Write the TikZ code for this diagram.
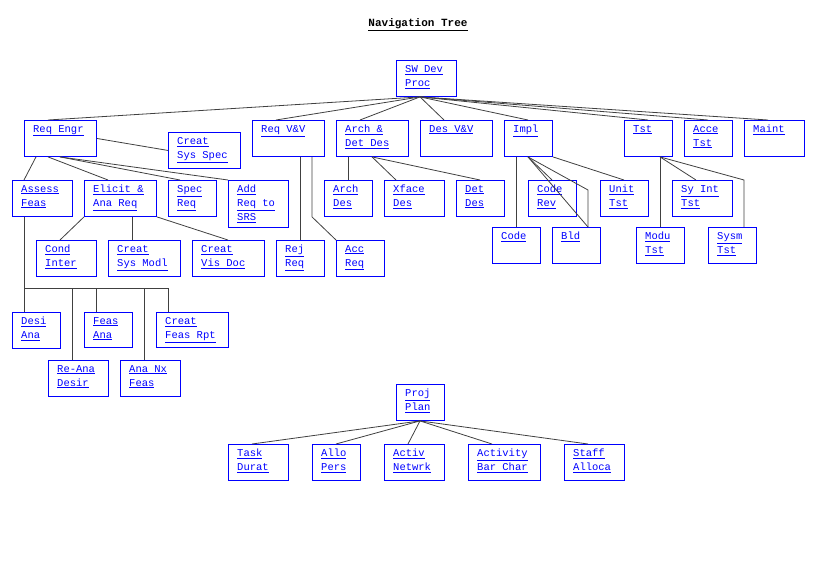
\documentclass[tikz,border=0pt]{standalone}
\usepackage{fontspec}
\setmonofont{Liberation Mono}
\usetikzlibrary{positioning}
\newcommand{\ul}[1]{\underline{#1}}
\newcommand{\navbox}[6]{%
  \node[navbox,minimum width=#4pt,minimum height=#5pt] (#1) at (#2,#3) {};
  \node[navtext] at ([xshift=9pt,yshift=-5pt]#1.north west) {#6};}
\tikzset{
  navbox/.style={draw=blue,line width=0.9pt,anchor=north west,inner sep=0pt},
  navtext/.style={anchor=north west,inner sep=0pt,align=left,text=blue,
    font=\ttfamily\fontsize{10.5}{14}\selectfont},
  link/.style={draw=black!75,line width=0.8pt}
}
\begin{document}
\begin{tikzpicture}[x=1pt,y=-1pt]
\useasboundingbox (0,0) rectangle (817,565);
\node[font=\ttfamily\bfseries\fontsize{11}{13}\selectfont] (title) at (418,25) {\ul{Navigation Tree}};

% top levels
\navbox{swdev}{396}{60}{60}{36}{\ul{SW Dev}\\\ul{Proc}}
\navbox{reqengr}{24}{120}{72}{36}{\ul{Req Engr}}
\navbox{sysspec}{168}{132}{72}{36}{\ul{Creat}\\\ul{Sys Spec}}
\navbox{reqvv}{252}{120}{72}{36}{\ul{Req V\&V}}
\navbox{arch}{336}{120}{72}{36}{\ul{Arch \&}\\\ul{Det Des}}
\navbox{desvv}{420}{120}{72}{36}{\ul{Des V\&V}}
\navbox{impl}{504}{120}{48}{36}{\ul{Impl}}
\navbox{tst}{624}{120}{48}{36}{\ul{Tst}}
\navbox{accetst}{684}{120}{48}{36}{\ul{Acce}\\\ul{Tst}}
\navbox{maint}{744}{120}{60}{36}{\ul{Maint}}

% second level
\navbox{assess}{12}{180}{60}{36}{\ul{Assess}\\\ul{Feas}}
\navbox{elicit}{84}{180}{72}{36}{\ul{Elicit \&}\\\ul{Ana Req}}
\navbox{specreq}{168}{180}{48}{36}{\ul{Spec}\\\ul{Req}}
\navbox{addreq}{228}{180}{60}{47}{\ul{Add}\\\ul{Req to}\\\ul{SRS}}
\navbox{archdes}{324}{180}{48}{36}{\ul{Arch}\\\ul{Des}}
\navbox{xface}{384}{180}{60}{36}{\ul{Xface}\\\ul{Des}}
\navbox{detdes}{456}{180}{48}{36}{\ul{Det}\\\ul{Des}}
\navbox{coderev}{528}{180}{48}{36}{\ul{Code}\\\ul{Rev}}
\navbox{unittst}{600}{180}{48}{36}{\ul{Unit}\\\ul{Tst}}
\navbox{syint}{672}{180}{60}{36}{\ul{Sy Int}\\\ul{Tst}}

% third level
\navbox{cond}{36}{240}{60}{36}{\ul{Cond}\\\ul{Inter}}
\navbox{sysmodl}{108}{240}{72}{36}{\ul{Creat}\\\ul{Sys Modl}}
\navbox{visdoc}{192}{240}{72}{36}{\ul{Creat}\\\ul{Vis Doc}}
\navbox{rejreq}{276}{240}{48}{36}{\ul{Rej}\\\ul{Req}}
\navbox{accreq}{336}{240}{48}{36}{\ul{Acc}\\\ul{Req}}
\navbox{code}{492}{227}{48}{36}{\ul{Code}}
\navbox{bld}{552}{227}{48}{36}{\ul{Bld}}
\navbox{modu}{636}{227}{48}{36}{\ul{Modu}\\\ul{Tst}}
\navbox{sysm}{708}{227}{48}{36}{\ul{Sysm}\\\ul{Tst}}

% feasibility
\navbox{desi}{12}{312}{48}{36}{\ul{Desi}\\\ul{Ana}}
\navbox{feasana}{84}{312}{48}{35}{\ul{Feas}\\\ul{Ana}}
\navbox{feasrpt}{156}{312}{72}{35}{\ul{Creat}\\\ul{Feas Rpt}}
\navbox{reana}{48}{360}{60}{36}{\ul{Re-Ana}\\\ul{Desir}}
\navbox{anafeas}{120}{360}{60}{36}{\ul{Ana Nx}\\\ul{Feas}}

% project plan
\navbox{proj}{396}{384}{48}{36}{\ul{Proj}\\\ul{Plan}}
\navbox{task}{228}{444}{60}{36}{\ul{Task}\\\ul{Durat}}
\navbox{allo}{312}{444}{48}{36}{\ul{Allo}\\\ul{Pers}}
\navbox{activ}{384}{444}{60}{36}{\ul{Activ}\\\ul{Netwrk}}
\navbox{barchar}{468}{444}{72}{36}{\ul{Activity}\\\ul{Bar Char}}
\navbox{staff}{564}{444}{60}{36}{\ul{Staff}\\\ul{Alloca}}

% connectors
\foreach \c in {reqengr,reqvv,arch,desvv,impl,tst,accetst,maint}
  \draw[link] ([xshift=24pt]swdev.south west) -- ([xshift=24pt]\c.north west);
\draw[link] (reqengr.east) -- (sysspec.west);
\draw[link] ([xshift=12pt]reqengr.south west) -- ([xshift=12pt]assess.north west);
\draw[link] ([xshift=24pt]reqengr.south west) -- ([xshift=24pt]elicit.north west);
\draw[link] ([xshift=36pt]reqengr.south west) -- ([xshift=12pt]specreq.north west);
\draw[link] ([xshift=36pt]reqengr.south west) -- (addreq.north west);
\draw[link] (elicit.south west) -- ([xshift=24pt]cond.north west);
\draw[link] ([xshift=48pt]elicit.south west) -- ([xshift=24pt]sysmodl.north west);
\draw[link] (elicit.south east) -- ([xshift=36pt]visdoc.north west);
\draw[link] ([xshift=12pt]assess.south west) -- ([xshift=12pt]desi.north west);
\coordinate (feasbar) at (24,288);
\draw[link] (feasbar) -- (168,288);
\draw[link] (72,288) -- ([xshift=24pt]reana.north west);
\draw[link] (96,288) -- ([xshift=12pt]feasana.north west);
\draw[link] (144,288) -- ([xshift=24pt]anafeas.north west);
\draw[link] (168,288) -- ([xshift=12pt]feasrpt.north west);
\draw[link] ([xshift=48pt]reqvv.south west) -- ([xshift=24pt]rejreq.north west);
\draw[link] ([xshift=60pt]reqvv.south west) -- ++(0,60) -- (accreq.north west);
\draw[link] ([xshift=12pt]arch.south west) -- ([xshift=24pt]archdes.north west);
\draw[link] ([xshift=36pt]arch.south west) -- ([xshift=12pt]xface.north west);
\draw[link] ([xshift=36pt]arch.south west) -- ([xshift=24pt]detdes.north west);
\draw[link] ([xshift=12pt]impl.south west) -- ([xshift=24pt]code.north west);
\draw[link] ([xshift=24pt]impl.south west) -- ([xshift=24pt]coderev.north west);
\draw[link] ([xshift=24pt]impl.south west) -- ([xshift=36pt]bld.north west) -- ([xshift=36pt]bld.north west);
\draw[link] ([xshift=24pt]impl.south west) -- (588,190) -- ([xshift=36pt]bld.north west);
\draw[link] (impl.south east) -- ([xshift=24pt]unittst.north west);
\draw[link] ([xshift=36pt]tst.south west) -- ([xshift=24pt]modu.north west);
\draw[link] ([xshift=36pt]tst.south west) -- ([xshift=24pt]syint.north west);
\draw[link] ([xshift=36pt]tst.south west) -- (744,180) -- ([xshift=36pt]sysm.north west);
\foreach \c in {task,allo,activ,barchar,staff}
  \draw[link] ([xshift=24pt]proj.south west) -- ([xshift=24pt]\c.north west);
\end{tikzpicture}
\end{document}
